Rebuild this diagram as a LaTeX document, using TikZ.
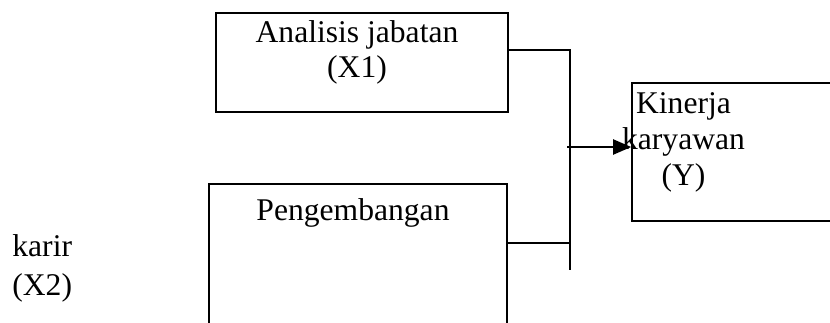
\documentclass[tikz,border=0pt]{standalone}
\usepackage{fontspec}
\setmainfont{Liberation Serif}
\usetikzlibrary{arrows.meta}
\begin{document}
\begin{tikzpicture}[x=0.5pt,y=-0.5pt,
    kotak/.style={draw,line width=0.8pt,inner sep=0pt},
    teks/.style={font=\fontsize{15.8}{18}\selectfont,align=center,inner sep=0pt},
    garis/.style={line width=0.8pt}]

      \useasboundingbox (0,0) rectangle (830,322);
      \clip (0,0) rectangle (830,322);

      \node[kotak,minimum width=146pt,minimum height=49.5pt] (x1) at (362,62.5) {};
      \node[kotak,minimum width=149pt,minimum height=88pt] (x2) at (358,272) {};
      \node[kotak,minimum width=114pt,minimum height=69pt] (y) at (746,152) {};

      \node[teks,anchor=base,font=\fontsize{15.8}{17.5}\selectfont] (tx1) at (357,77) {Analisis jabatan\\(X1)};
      \node[teks,anchor=base] (tx2) at (353,220) {Pengembangan};
      \node[teks,anchor=base west,align=left,font=\fontsize{15.8}{19.5}\selectfont] (tx2b) at (12,295) {karir\\(X2)};
      \node[teks,anchor=base] (ty) at (683.5,185) {Kinerja\\karyawan\\(Y)};

      \coordinate (a) at (570,50);
      \coordinate (b) at (570,270);
      \coordinate (c) at (570,243);
      \coordinate (d) at (567,147);
      \draw[garis] (x1.east |- a) -- (a) -- (b);
      \draw[garis] (x2.east |- c) -- (c);
      \draw[garis,line width=1pt,-{Triangle[length=9pt,width=7.5pt]}] (d) -- (y.west |- d);

    \end{tikzpicture}
\end{document}
